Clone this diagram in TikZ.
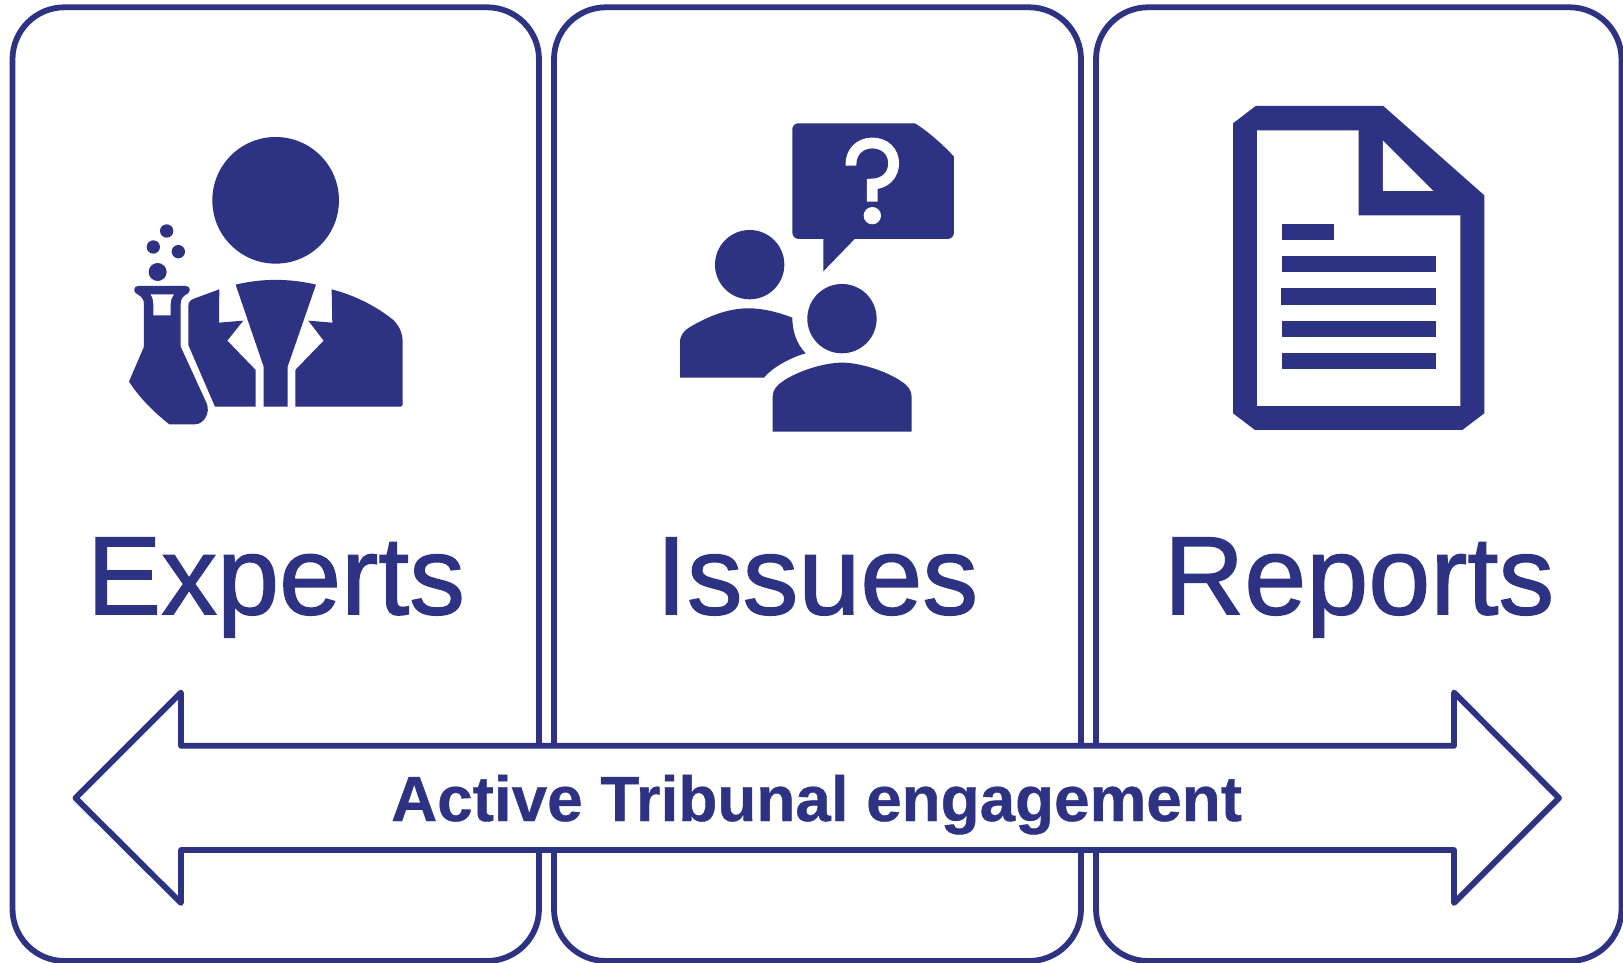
\documentclass[tikz,border=0pt]{standalone}
\usepackage{fontspec}
\setmainfont{Liberation Sans}
\newfontfamily\wordfont[FakeBold=1.2]{Liberation Sans}
\newfontfamily\bannerfont[FakeBold=0.6]{Liberation Sans Bold}
\definecolor{navy}{HTML}{2E3282}
\tikzset{
  panel/.style={draw=navy,line width=5.8pt,rounded corners=52pt,fill=white},
  arrowshape/.style={draw=navy,line width=5.8pt,line join=round,fill=white},
  solid fill/.style={fill=navy,draw=none},
  knock/.style={fill=white,draw=none},
  word/.style={text=navy,inner sep=0pt,anchor=base,font=\wordfont\fontsize{111.5}{120}\selectfont},
  banner/.style={text=navy,inner sep=0pt,anchor=base,font=\bannerfont\fontsize{63.8}{70}\selectfont},
  zoomed/.style={x=0.3333pt,y=-0.3333pt}
}
\begin{document}
\begin{tikzpicture}[x=1pt,y=-1pt]
\path[use as bounding box,fill=white] (0,0) rectangle (1623,963);
\clip (0,0) rectangle (1623,963);
% panels
\draw[panel] (12.5,7.3) rectangle (539,961);
\draw[panel] (554,7.3) rectangle (1081,961);
\draw[panel] (1096,7.3) rectangle (1621.5,961);
% experts icon
\begin{scope}[shift={(100pt,-110pt)},zoomed]
\fill[solid fill] (527,271) circle (190);
\fill[solid fill] (200,363) circle (20);
\fill[solid fill] (160,411) circle (20);
\fill[solid fill] (235,425) circle (20);
\fill[solid fill] (173,486) circle (27);
\fill[solid fill] (115,528) -- (257,528) .. controls (272,528) and (272,545) .. (264,550)
  .. controls (250,558) and (242,565) .. (242,582) -- (242,710) -- (320,880)
  .. controls (332,908) and (312,943) .. (285,943) -- (208,943)
  .. controls (160,905) and (120,865) .. (87,815) -- (132,710) -- (132,582)
  .. controls (132,565) and (122,558) .. (108,550) .. controls (100,545) and (100,528) .. (115,528) -- cycle;
\fill[knock] (152,553) -- (222,553) .. controls (214,565) and (212,572) .. (212,582) -- (212,616) -- (160,616) -- (160,582) .. controls (160,572) and (158,565) .. (152,553) -- cycle;
\fill[solid fill] (358,538) -- (282,566) .. controls (270,571) and (265,576) .. (265,590) -- (265,705) -- (345,890) -- (467,890) -- (467,780) -- (382,692) -- (430,632) -- (357,638) -- cycle;
\fill[solid fill] (407,524) .. controls (485,505) and (570,505) .. (648,524) -- (563,770) -- (563,890) -- (491,890) -- (491,770) -- cycle;
\fill[solid fill] (695,538) .. controls (770,558) and (830,590) .. (880,630) .. controls (898,648) and (908,670) .. (908,695) -- (908,885) -- (903,890) -- (586,890) -- (586,780) -- (671,692) -- (625,632) -- (697,638) -- cycle;
\end{scope}
% issues icon
\begin{scope}[shift={(660pt,-100pt)},zoomed]
\fill[solid fill] (415,70) -- (765,70) .. controls (805,95) and (850,135) .. (882,170) -- (882,397) .. controls (882,410) and (873,417) .. (862,417) -- (584,417) -- (490,514) -- (490,417) -- (417,417) .. controls (405,417) and (397,408) .. (397,397) -- (397,88) .. controls (397,78) and (405,70) .. (415,70) -- cycle;
\draw[white,line width=10.8pt] (573,197) -- (573,192) .. controls (573,155) and (600,129) .. (637,129) .. controls (675,129) and (701,155) .. (701,190) .. controls (701,225) and (675,252) .. (637,252) -- (637,305);
\fill[knock] (637,347) circle (26);
\fill[solid fill] (269,494) circle (104);
\fill[solid fill] (60,833) -- (60,728) .. controls (60,705) and (72,692) .. (90,681) .. controls (140,652) and (200,625) .. (265,625) .. controls (310,625) and (355,637) .. (397,653) .. controls (397,695) and (410,732) .. (437,760) .. controls (385,775) and (335,805) .. (312,833) -- cycle;
\fill[solid fill] (546,656) circle (104);
\fill[solid fill] (338,995) -- (338,890) .. controls (338,868) and (352,855) .. (370,843) .. controls (410,815) and (490,788) .. (546,788) .. controls (602,788) and (682,815) .. (722,843) .. controls (742,855) and (755,870) .. (755,890) -- (755,995) -- cycle;
\end{scope}
% reports icon
\begin{scope}[shift={(1210pt,-90pt)},zoomed]
\fill[solid fill] (137,48) -- (520,48) -- (823,316) -- (823,970) -- (757,1020) -- (135,1020) -- (69,970) -- (69,100) -- cycle;
\fill[knock] (141,121) -- (446,121) -- (446,376) -- (751,376) -- (751,948) -- (141,948) -- cycle;
\fill[knock] (519,152) -- (670,303) -- (519,303) -- cycle;
\fill[solid fill] (215,402) rectangle (373,450);
\fill[solid fill] (215,498) rectangle (678,547);
\fill[solid fill] (213,594) rectangle (678,645);
\fill[solid fill] (215,693) rectangle (678,742);
\fill[solid fill] (215,790) rectangle (678,838);
\end{scope}
% labels
\node[word] (experts) at (276,614.3) {Experts};
\node[word] (issues) at (817,614.3) {Issues};
\node[word] (reports) at (1359,614.3) {Reports};
% double arrow
\draw[arrowshape] (75.5,798) -- (181,692.5) -- (181,745.8) -- (1454,745.8) -- (1454,692.5) -- (1559,798) -- (1454,903) -- (1454,850) -- (181,850) -- (181,903) -- cycle;
\node[banner] (engagement) at (816.6,821) {Active Tribunal engagement};
\end{tikzpicture}
\end{document}
